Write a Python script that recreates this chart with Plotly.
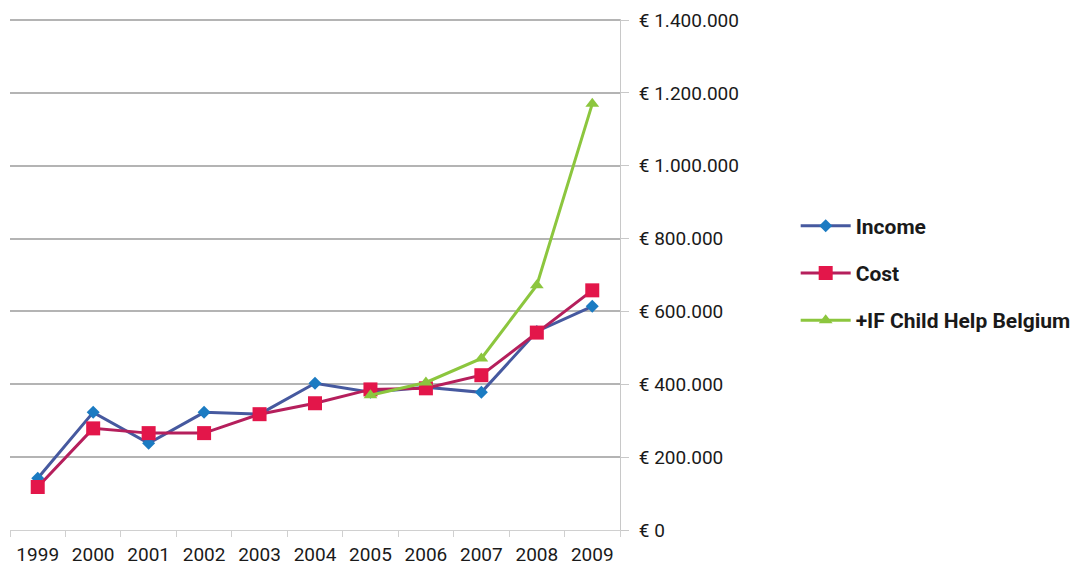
import plotly.graph_objects as go

years = ["1999", "2000", "2001", "2002", "2003", "2004", "2005", "2006", "2007", "2008", "2009"]
income = [142000, 323000, 238000, 323000, 318000, 403000, 378000, 392000, 378000, 545000, 614000]
cost = [118000, 279000, 266000, 266000, 318000, 348000, 386000, 389000, 425000, 542000, 658000]
child_years = ["2005", "2006", "2007", "2008", "2009"]
child_help = [370000, 405000, 471000, 672000, 1170000]

tick_vals = [0, 200000, 400000, 600000, 800000, 1000000, 1200000, 1400000]
tick_text = ["€ 0", "€ 200.000", "€ 400.000", "€ 600.000", "€ 800.000",
             "€ 1.000.000", "€ 1.200.000", "€ 1.400.000"]

fig = go.Figure()
fig.add_trace(go.Scatter(x=years, y=income, name="Income", mode="lines+markers",
                         line=dict(color="#46599f", width=3),
                         marker=dict(symbol="diamond", size=10, color="#1b7bc2"),
                         legendgroup="a"))
fig.add_trace(go.Scatter(x=years, y=cost, name="Cost", mode="lines+markers",
                         line=dict(color="#b51f5c", width=3),
                         marker=dict(symbol="square", size=14, color="#e3164a"),
                         legendgroup="b"))
fig.add_trace(go.Scatter(x=child_years, y=child_help, name="+IF Child Help Belgium",
                         mode="lines+markers",
                         line=dict(color="#8cc63e", width=3),
                         marker=dict(symbol="triangle-up", size=12, color="#8cc63e"),
                         legendgroup="c"))

fig.update_layout(
    width=1083, height=577,
    margin=dict(l=2, r=471, t=11, b=55, autoexpand=False),
    paper_bgcolor="white", plot_bgcolor="white",
    font=dict(family="Roboto", size=19, color="#1a1a1a"),
    showlegend=True,
    legend=dict(x=1.288, y=0.635, xanchor="left", yanchor="top",
                font=dict(family="Roboto", size=21, color="#1a1a1a", weight="bold"),
                tracegroupgap=17, itemwidth=50, bgcolor="rgba(0,0,0,0)"),
    xaxis=dict(type="category", tickson="boundaries", ticks="outside", ticklen=6,
               tickcolor="#d0d0d0", showline=True, linecolor="#d0d0d0", linewidth=1,
               showgrid=False, range=[-0.5, 10.5], tickfont=dict(size=19),
               ticklabelstandoff=7, automargin=False),
    yaxis=dict(side="right", range=[0, 1403000], tickvals=tick_vals, ticktext=tick_text,
               showgrid=True, gridcolor="#b4b4b4", gridwidth=1.5,
               ticks="outside", ticklen=8, tickcolor="#c8c8c8",
               showline=True, linecolor="#c8c8c8", linewidth=1,
               zeroline=False, tickfont=dict(size=19), ticklabelstandoff=6,
               automargin=False),
)

fig.write_html("out.html")
